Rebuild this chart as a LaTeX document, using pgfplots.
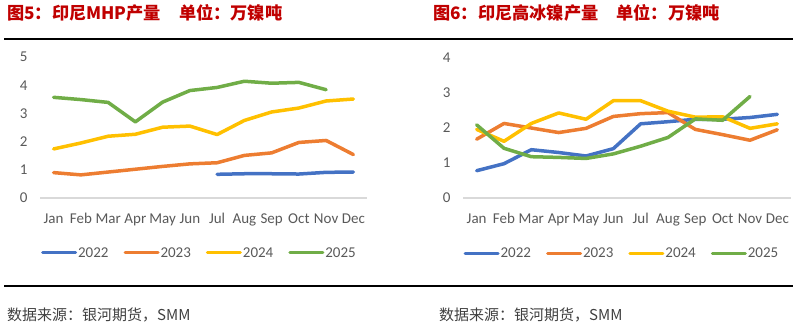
\documentclass[border=0pt]{standalone}
\usepackage{fontspec}
\usepackage{pgfplots}
\pgfplotsset{compat=1.18}
\setmainfont{Carlito}
\newfontfamily\cjk{Noto Sans CJK SC}
\definecolor{c22}{HTML}{4472C4}
\definecolor{c23}{HTML}{ED7D31}
\definecolor{c24}{HTML}{FFC000}
\definecolor{c25}{HTML}{70AD47}
\definecolor{titred}{HTML}{C00000}
\definecolor{tickgray}{HTML}{595959}
\definecolor{axgray}{HTML}{D9D9D9}
\definecolor{srcgray}{HTML}{404040}
\pgfplotsset{mystyle/.style={
  scale only axis,
  xmin=-0.5, xmax=11.5, ymin=0,
  xtick={0,...,11},
  xticklabels={Jan,Feb,Mar,Apr,May,Jun,Jul,Aug,Sep,Oct,Nov,Dec},
  axis x line*=bottom, axis y line*=left,
  x axis line style={draw=axgray, line width=1.5pt, -},
  y axis line style={draw=none},
  tick style={draw=none},
  ticklabel style={font=\fontsize{15}{17}\selectfont, text=tickgray},
  yticklabel style={xshift=-9pt},
  xticklabel style={yshift=-12pt},
  /pgf/number format/assume math mode=true,
  legend columns=4,
  legend style={draw=none, fill=none, font=\fontsize{15}{17}\selectfont, text=tickgray, anchor=center,
    /tikz/every even column/.append style={column sep=14pt},
    /tikz/every odd column/.append style={column sep=0pt},
    nodes={inner sep=1pt}},
  legend image code/.code={\draw[#1, line width=3pt, line cap=round] (0pt,0pt) -- (33pt,0pt);},
  every axis plot/.append style={line width=3.5pt, line join=round, line cap=round, no marks},
}}
\begin{document}
\begin{tikzpicture}
\path[use as bounding box] (0pt,0pt) rectangle (793pt,-323pt);
\node[anchor=west, text=titred, font=\cjk\bfseries\fontsize{17.2}{19}\selectfont, inner sep=0] at (7pt,-12.5pt) {图5：印尼MHP产量\hspace{18pt}单位：万镍吨};
\node[anchor=west, text=titred, font=\cjk\bfseries\fontsize{17.2}{19}\selectfont, inner sep=0] at (433pt,-12.5pt) {图6：印尼高冰镍产量\hspace{18pt}单位：万镍吨};
\draw[line width=2.5pt] (4pt,-39pt) -- (793pt,-39pt);
\draw[line width=2.5pt] (4pt,-286pt) -- (793pt,-286pt);
\node[anchor=west, text=srcgray, font=\cjk\fontsize{15}{17}\selectfont, inner sep=0] at (7pt,-315pt) {数据来源：银河期货，SMM};
\node[anchor=west, text=srcgray, font=\cjk\fontsize{15}{17}\selectfont, inner sep=0] at (439pt,-315pt) {数据来源：银河期货，SMM};
\begin{axis}[mystyle, at={(40pt,-198pt)}, anchor=south west, width=327pt, height=141pt,
  ymax=5, ytick={0,...,5}, legend style={at={(0.486,-0.39)}}]
\addplot[c22] coordinates {(6,0.84)(7,0.86)(8,0.86)(9,0.85)(10,0.91)(11,0.92)};
\addplot[c23] coordinates {(0,0.90)(1,0.82)(2,0.92)(3,1.02)(4,1.12)(5,1.21)(6,1.25)(7,1.51)(8,1.60)(9,1.97)(10,2.04)(11,1.54)};
\addplot[c24] coordinates {(0,1.74)(1,1.95)(2,2.19)(3,2.26)(4,2.51)(5,2.55)(6,2.25)(7,2.75)(8,3.05)(9,3.19)(10,3.44)(11,3.51)};
\addplot[c25] coordinates {(0,3.57)(1,3.49)(2,3.39)(3,2.70)(4,3.40)(5,3.81)(6,3.92)(7,4.14)(8,4.07)(9,4.10)(10,3.84)};
\legend{2022,2023,2024,2025}
\end{axis}
\begin{axis}[mystyle, at={(463pt,-198pt)}, anchor=south west, width=328pt, height=140pt,
  ymax=4, ytick={0,...,4}, legend style={at={(0.483,-0.393)}}]
\addplot[c22] coordinates {(0,0.78)(1,0.98)(2,1.38)(3,1.30)(4,1.20)(5,1.41)(6,2.12)(7,2.18)(8,2.25)(9,2.25)(10,2.30)(11,2.39)};
\addplot[c23] coordinates {(0,1.68)(1,2.13)(2,2.00)(3,1.87)(4,1.99)(5,2.33)(6,2.41)(7,2.44)(8,1.96)(9,1.81)(10,1.65)(11,1.95)};
\addplot[c24] coordinates {(0,1.96)(1,1.62)(2,2.13)(3,2.43)(4,2.25)(5,2.78)(6,2.78)(7,2.48)(8,2.31)(9,2.32)(10,1.99)(11,2.12)};
\addplot[c25] coordinates {(0,2.09)(1,1.42)(2,1.18)(3,1.16)(4,1.13)(5,1.26)(6,1.48)(7,1.73)(8,2.26)(9,2.22)(10,2.90)};
\legend{2022,2023,2024,2025}
\end{axis}
\end{tikzpicture}
\end{document}
